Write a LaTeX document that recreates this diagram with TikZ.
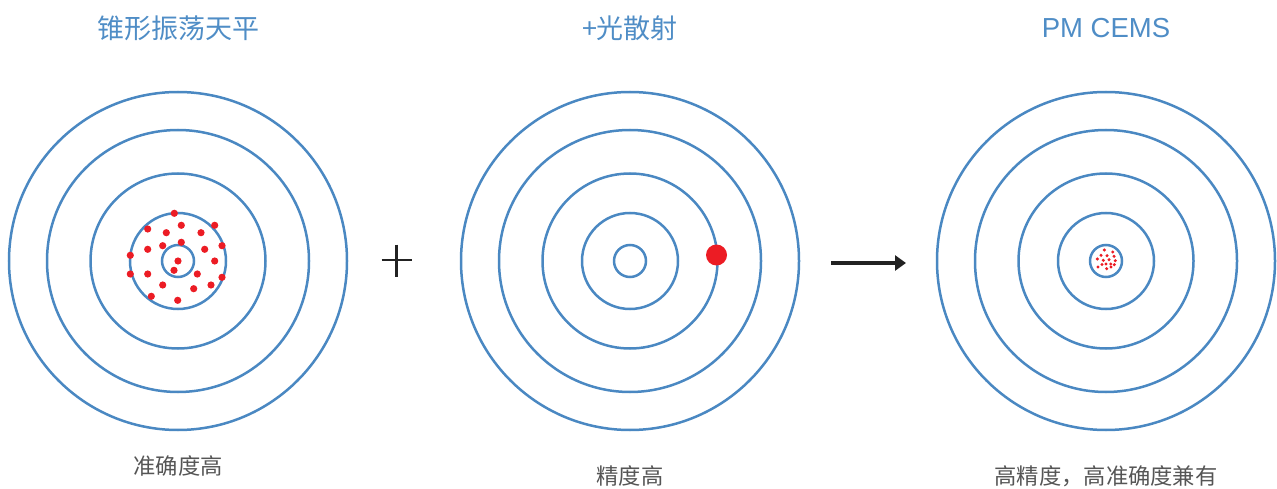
\documentclass[tikz,border=0pt]{standalone}
\usepackage{fontspec}
\newfontfamily\cjk{Noto Sans CJK SC}
\newfontfamily\latinsans{Liberation Sans}
\usetikzlibrary{arrows.meta}
\definecolor{ringblue}{HTML}{4A88C2}
\definecolor{titleblue}{HTML}{4F8DC6}
\definecolor{dotred}{HTML}{EC1C24}
\definecolor{labelgray}{HTML}{555555}
\definecolor{signdark}{HTML}{222222}
\tikzset{
  ring/.style={draw=ringblue, line width=2.5pt},
  bigdot/.style={fill=dotred, draw=none},
  title/.style={font=\cjk\fontsize{27}{30}\selectfont, text=titleblue, inner sep=0pt},
  caption/.style={font=\cjk\fontsize{22.3}{24}\selectfont, text=labelgray, inner sep=0pt},
  signline/.style={draw=signdark, line width=2.8pt},
}
\begin{document}
\begin{tikzpicture}[x=1pt,y=-1pt]
\useasboundingbox (0,0) rectangle (1277,489);
% centres
\coordinate (c1) at (178,261);
\coordinate (c2) at (630,261);
\coordinate (c3) at (1106,261);
% target rings
\foreach \c in {c1,c2,c3}{
  \foreach \r in {169,131,87.5,48,16}{
    \draw[ring] (\c) circle[radius=\r pt];
  }
}
% scattered dots, target 1
\foreach \x/\y in {174.3/213.3,147.7/229,181.3/225.3,166.3/232.7,201/232.7,214.7/225.3,
  181.3/242.3,162.7/245.7,147.7/249.3,204.7/249.3,222/245.7,130.3/255.3,178/261,
  214.7/261,174/270.3,130.3/274,147.7/274,197.3/274,222/277.3,162.7/285,193.7/288.7,
  211/285,151.3/296.3,177.7/300.3}{
  \fill[bigdot] (\x,\y) circle[radius=3.6pt];
}
% single big dot, target 2
\fill[bigdot] (716.5,255) circle[radius=10.5pt];
% clustered dots, target 3
\foreach \x/\y in {1104.3/250,1112.7/252,1101/255.3,1107/255.7,1114/256.3,1097.3/259,
  1103.3/260.3,1109/259.7,1115.3/260.7,1106/264,1110.7/264,1114.3/264.7,1098/267,
  1106.7/268.7,1111/267,1102/264.5}{
  \fill[bigdot] (\x,\y) circle[radius=1.7pt];
}
% titles
\node[title] (t1) at (178,28) {锥形振荡天平};
\node[title] (t2) at (630,28) {+光散射};
\node[title, font=\latinsans\fontsize{27.5}{30}\selectfont] (t3) at (1106,28) {PM CEMS};
% captions
\node[caption] (b1) at (178,466) {准确度高};
\node[caption] (b2) at (630,476) {精度高};
\node[caption] (b3) at (1106,476) {高精度，高准确度兼有};
% plus sign
\coordinate (pl) at (381.7,260);
\coordinate (pr) at (411.7,260);
\coordinate (pt) at (396.7,244.7);
\coordinate (pb) at (396.7,277.3);
\draw[signline] (pl) -- (pr);
\draw[signline] (pt) -- (pb);
% arrow
\coordinate (a0) at (831,263);
\coordinate (a1) at (906,263);
\draw[draw=signdark, line width=3.5pt, -{Triangle[length=11pt,width=15pt]}] (a0) -- (a1);
\end{tikzpicture}
\end{document}
